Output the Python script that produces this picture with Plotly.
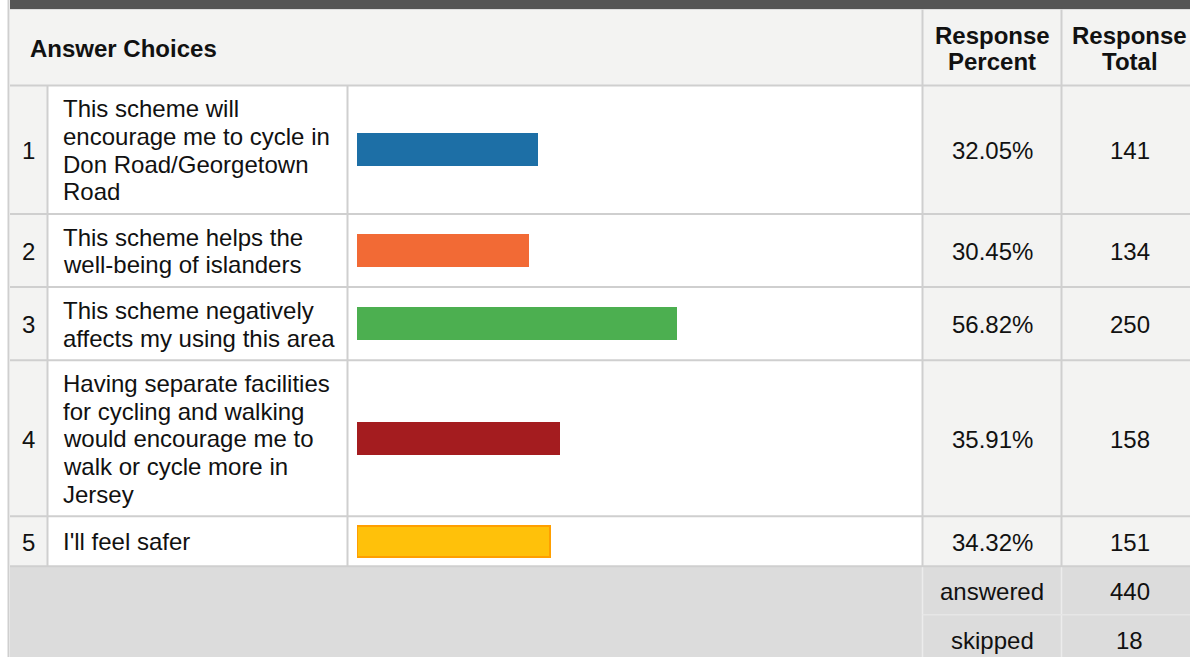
import plotly.graph_objects as go

# ---- data ----
choice_numbers = [1, 2, 3, 4, 5]
choice_labels = [
    "This scheme will<br>encourage me to cycle in<br>Don Road/Georgetown<br>Road",
    "This scheme helps the<br>well-being of islanders",
    "This scheme negatively<br>affects my using this area",
    "Having separate facilities<br>for cycling and walking<br>would encourage me to<br>walk or cycle more in<br>Jersey",
    "I'll feel safer",
]
response_percent = [32.05, 30.45, 56.82, 35.91, 34.32]
response_total = [141, 134, 250, 158, 151]
summary_labels = ["answered", "skipped"]
summary_values = [440, 18]
header_choices = "Answer Choices"
header_percent = ["Response", "Percent"]
header_total = ["Response", "Total"]

# ---- styles / layout constants ----
W, H = 1190, 657
FONT = "Liberation Sans, Arial, sans-serif"
FS = 24
TXT = "#111111"
GRID = "#cfcfcf"
CELL_BG = "#f3f3f2"
FOOT_BG = "#dcdcdc"
bar_colors = ["#1d6fa6", "#f26a35", "#4caf50", "#a41c1f", "#ffc10a"]
bar_line_colors = ["#1d6fa6", "#f26a35", "#4caf50", "#a41c1f", "#ff9f00"]

LINE_H = 27.6
ROW_PAD = 18
ROW_MIN = 50
TABLE_L = 10
NUM_R = 47.5
LABEL_R = 347.5
BAR_R = 922.5
PCT_R = 1061.5
TOT_R = 1198
HEAD_T, HEAD_B = 9.5, 85.5
BAR_X0, BAR_X1 = 357, 919
BAR_THICK = 31
LABEL_X = 61
HEAD_X = 28

# row geometry derived from wrapped label line counts
line_lists = [lbl.split("<br>") for lbl in choice_labels]
row_heights = [max(len(l) * LINE_H + ROW_PAD, ROW_MIN) for l in line_lists]
row_tops = []
y = HEAD_B
for h in row_heights:
    row_tops.append(y)
    y += h
body_bottom = y
row_centers = [t + h / 2 for t, h in zip(row_tops, row_heights)]
FOOT_ROW_H = 48.5

fig = go.Figure()

fig.add_trace(go.Bar(
    x=response_percent,
    y=row_centers,
    orientation="h",
    width=BAR_THICK,
    marker=dict(color=bar_colors, line=dict(color=bar_line_colors, width=2)),
    xaxis="x2",
    yaxis="y",
    hoverinfo="skip",
    showlegend=False,
))

shapes = []
def rect(x0, y0, x1, y1, color):
    shapes.append(dict(type="rect", xref="x", yref="y", x0=x0, y0=y0, x1=x1, y1=y1,
                       fillcolor=color, line=dict(width=0), layer="below"))
def line(x0, y0, x1, y1, color=GRID, width=2):
    shapes.append(dict(type="line", xref="x", yref="y", x0=x0, y0=y0, x1=x1, y1=y1,
                       line=dict(color=color, width=width), layer="below"))

# top dark strip
rect(TABLE_L, 0, W, HEAD_T - 0.5, "#555555")
# header
rect(TABLE_L, HEAD_T, W, HEAD_B, CELL_BG)
# body columns
rect(TABLE_L, HEAD_B, NUM_R, body_bottom, CELL_BG)
rect(BAR_R, HEAD_B, W, body_bottom, CELL_BG)
# footer
rect(TABLE_L, body_bottom, W, H, FOOT_BG)

# grid lines
line(8.5, 0, 8.5, H)
line(TABLE_L, HEAD_T, W, HEAD_T, "#dddddd", 1)
line(TABLE_L, HEAD_B, W, HEAD_B)
for t in row_tops[1:]:
    line(TABLE_L, t, W, t)
line(TABLE_L, body_bottom, W, body_bottom)
line(NUM_R, HEAD_B, NUM_R, body_bottom)
line(LABEL_R, HEAD_B, LABEL_R, body_bottom)
line(BAR_R, HEAD_T, BAR_R, body_bottom)
line(PCT_R, HEAD_T, PCT_R, body_bottom)
# footer separators
line(BAR_R, body_bottom + 1, BAR_R, H, "#ececec", 1.5)
line(PCT_R, body_bottom + 1, PCT_R, H, "#ececec", 1.5)
line(BAR_R, body_bottom + FOOT_ROW_H, W, body_bottom + FOOT_ROW_H, "#e6e6e6", 1.5)

annotations = []
def text(x, yy, s, anchor="center", bold=False):
    annotations.append(dict(
        x=x, y=yy, xref="x", yref="y", text=f"<b>{s}</b>" if bold else s,
        showarrow=False, xanchor=anchor, yanchor="middle",
        font=dict(family=FONT, size=FS, color=TXT)))

HEAD_MID = (HEAD_T + HEAD_B) / 2 + 0.5
text(HEAD_X, HEAD_MID, header_choices, "left", True)
pct_mid = (BAR_R + PCT_R) / 2
tot_mid = (PCT_R + TOT_R) / 2
for i, s in enumerate(header_percent):
    text(pct_mid, HEAD_MID + (i - 0.5) * 26, s, bold=True)
for i, s in enumerate(header_total):
    text(tot_mid, HEAD_MID + (i - 0.5) * 26, s, bold=True)

for n, lines_, c, p, t in zip(choice_numbers, line_lists, row_centers, response_percent, response_total):
    text((TABLE_L + NUM_R) / 2, c + 1, str(n))
    k = len(lines_)
    for j, s in enumerate(lines_):
        text(LABEL_X, c + (j - (k - 1) / 2) * LINE_H + 0.5, s, "left")
    text(pct_mid, c + 1, f"{p:.2f}%")
    text(tot_mid, c + 1, str(t))

for i, (lab, val) in enumerate(zip(summary_labels, summary_values)):
    cy = body_bottom + FOOT_ROW_H * (i + 0.5) + 1
    text(pct_mid, cy, lab)
    text(tot_mid, cy, str(val))

fig.update_layout(
    width=W, height=H,
    margin=dict(l=0, r=0, t=0, b=0),
    paper_bgcolor="white",
    plot_bgcolor="rgba(0,0,0,0)",
    xaxis=dict(range=[0, W], visible=False, fixedrange=True),
    xaxis2=dict(domain=[BAR_X0 / W, BAR_X1 / W], range=[0, 100], anchor="y",
                visible=False, fixedrange=True),
    yaxis=dict(range=[H, 0], visible=False, fixedrange=True),
    shapes=shapes,
    annotations=annotations,
    bargap=0,
    showlegend=False,
)

fig.write_html(
    "out.html",
    config={"displayModeBar": False},
    post_script="document.body.style.margin='0';document.body.style.overflow='hidden';",
)
